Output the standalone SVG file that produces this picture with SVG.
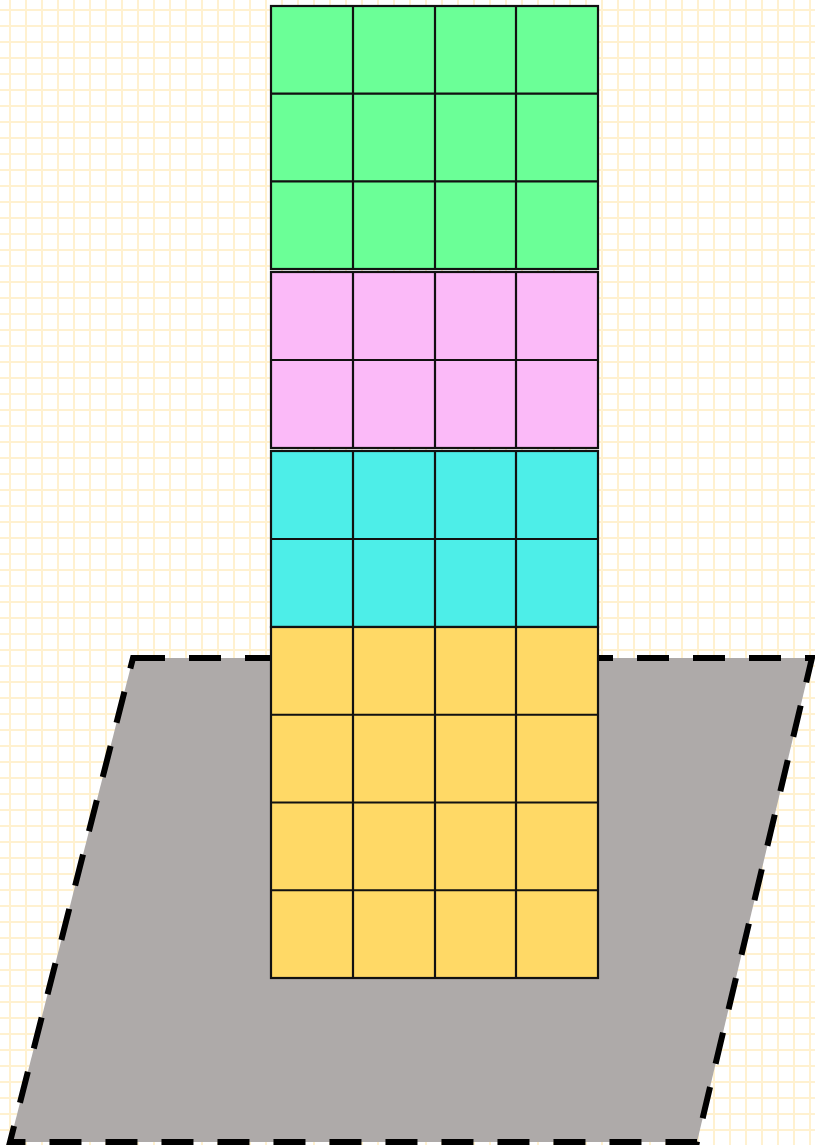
<svg xmlns="http://www.w3.org/2000/svg" width="815" height="1145" viewBox="0 0 815 1145">
  <defs>
    <pattern id="grid" x="0" y="0" width="16" height="16" patternUnits="userSpaceOnUse">
      <rect x="9" y="0" width="2" height="16" fill="#fff1d0"/>
      <rect x="0" y="9" width="16" height="2" fill="#fff1d0"/>
    </pattern>
  </defs>
  <style>
    .cell { stroke: #111; stroke-width: 2.2; }
    .g { fill: #6bff97; }
    .p { fill: #fbbaf8; }
    .c { fill: #4deee8; }
    .y { fill: #ffd966; }
    .ln { stroke: #111; stroke-width: 2.2; fill: none; }
  </style>
  <rect width="815" height="1145" fill="#ffffff"/>
  <rect width="815" height="1145" fill="url(#grid)"/>
  <g id="plane">
    <path d="M133 658 L812 658 L697 1142 L10 1142 Z" fill="#aeaaa9" stroke="#000" stroke-width="6" stroke-dasharray="32 24"/>
  </g>
  <g id="green-block">
    <rect class="cell g" x="271" y="6" width="327" height="263"/>
    <path class="ln" d="M353 6V269M435 6V269M516 6V269M271 93.7H598M271 181.3H598"/>
  </g>
  <g id="pink-block">
    <rect class="cell p" x="271" y="272" width="327" height="176"/>
    <path class="ln" d="M353 272V448M435 272V448M516 272V448M271 360H598"/>
  </g>
  <g id="cyan-block">
    <rect class="cell c" x="271" y="451" width="327" height="176"/>
    <path class="ln" d="M353 451V627M435 451V627M516 451V627M271 539H598"/>
  </g>
  <g id="yellow-block">
    <rect class="cell y" x="271" y="627" width="327" height="351"/>
    <path class="ln" d="M353 627V978M435 627V978M516 627V978M271 714.75H598M271 802.5H598M271 890.25H598"/>
  </g>
</svg>
